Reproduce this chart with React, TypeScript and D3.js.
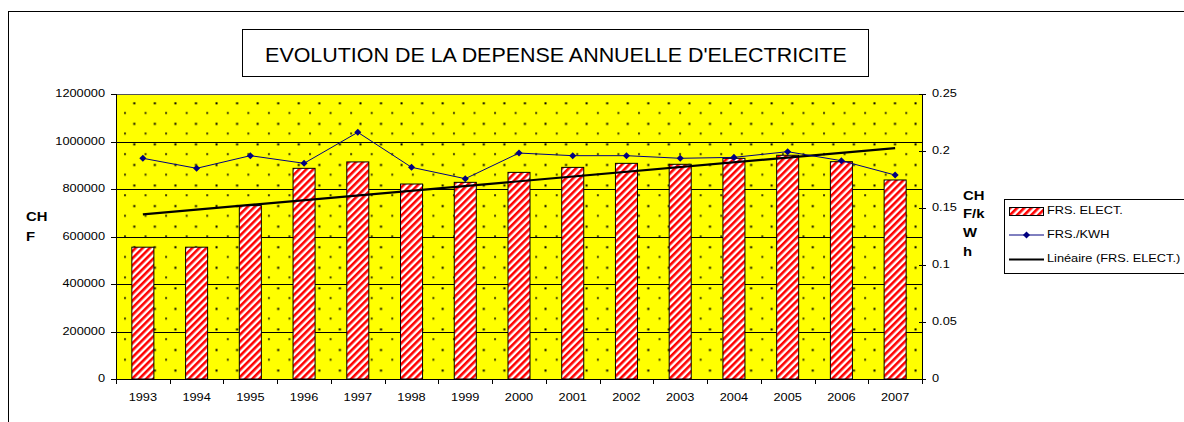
import React from 'react';
import * as d3 from 'd3';

const years = ['1993', '1994', '1995', '1996', '1997', '1998', '1999', '2000', '2001', '2002', '2003', '2004', '2005', '2006', '2007'];
const frsElect = [555000, 555000, 730000, 887000, 914000, 821000, 828000, 870000, 891000, 908000, 904000, 929000, 942000, 915000, 838000];
const frsKwh = [0.1936, 0.1848, 0.1959, 0.1892, 0.2164, 0.1857, 0.1757, 0.1982, 0.1959, 0.1959, 0.1936, 0.1944, 0.1994, 0.1915, 0.1789];
const leftTicks = [0, 200000, 400000, 600000, 800000, 1000000, 1200000];
const rightTicks = [0, 0.05, 0.1, 0.15, 0.2, 0.25];
const titleText = "EVOLUTION DE LA DEPENSE ANNUELLE D'ELECTRICITE";
const legendLabels = ['FRS. ELECT.', 'FRS./KWH', 'Linéaire (FRS. ELECT.)'];
const leftTitle = ['CH', 'F'];
const rightTitle = ['CH', 'F/k', 'W', 'h'];

const FONT = '"Liberation Sans", Arial, sans-serif';
const SX = 1.1;

function T(props: { x: number; y: number; size: number; anchor?: string; bold?: boolean; children: React.ReactNode }) {
  const { x, y, size, anchor = 'start', bold = false, children } = props;
  return (
    <text
      transform={`translate(${x},${y}) scale(${SX},1)`}
      textAnchor={anchor}
      dominantBaseline="middle"
      fontSize={size}
      fontWeight={bold ? 'bold' : 'normal'}
      fill="#000"
    >
      {children}
    </text>
  );
}

export default function App() {
  const L = 116, R = 922, Tp = 94, B = 379;
  const x = d3.scaleBand<string>().domain(years).range([L, R]).padding(0);
  const yL = d3.scaleLinear().domain([0, 1200000]).range([B, Tp]);
  const yR = d3.scaleLinear().domain([0, 0.25]).range([B, Tp]);
  const bw = x.bandwidth() * 0.41;
  const cx = (yr: string) => (x(yr) as number) + x.bandwidth() / 2;

  // linear trendline (least squares) of FRS. ELECT.
  const n = frsElect.length;
  const idx = d3.range(n);
  const mx = d3.mean(idx) as number;
  const my = d3.mean(frsElect) as number;
  const slope = d3.sum(idx, (i) => (i - mx) * (frsElect[i] - my)) / d3.sum(idx, (i) => (i - mx) * (i - mx));
  const icpt = my - slope * mx;
  const trend = [0, n - 1].map((i) => [cx(years[i]), yL(icpt + slope * i)] as [number, number]);

  const line = d3.line<number>().x((_, i) => cx(years[i])).y((d) => yR(d));
  const diamond = d3.symbol().type(d3.symbolDiamond2).size(32)() as string;

  return (
    <svg width={1184} height={422} style={{ position: 'absolute', left: 0, top: 0, background: '#fff' }} fontFamily={FONT}>
      <defs>
        <pattern id="dots" patternUnits="userSpaceOnUse" x={123} y={101} width={20.56} height={20.56}>
          <rect x={10.3} y={1.3} width={2} height={2} fill="#000" />
          <rect x={1} y={11} width={2} height={2} fill="#000" opacity={0.75} />
        </pattern>
        <pattern id="stripes" patternUnits="userSpaceOnUse" width={5} height={5} patternTransform="rotate(45)">
          <rect x={0} y={0} width={5} height={5} fill="#fff" />
          <rect x={0} y={0} width={2.6} height={5} fill="#ff0000" />
        </pattern>
      </defs>

      {/* outer frame */}
      <rect x={8.5} y={11.5} width={1300} height={500} fill="none" stroke="#000" strokeWidth={1} />

      {/* title */}
      <rect x={242.5} y={29.5} width={626} height={47} fill="#fff" stroke="#000" strokeWidth={1} />
      <T x={556} y={57} size={19.5} anchor="middle">{titleText}</T>

      {/* plot background */}
      <rect x={L} y={Tp} width={R - L} height={B - Tp} fill="#ffff00" />
      <rect x={L} y={Tp} width={R - L} height={B - Tp} fill="url(#dots)" />

      {/* gridlines */}
      {leftTicks.map((t) => (
        <line key={'g' + t} x1={L} x2={R} y1={Math.round(yL(t)) + 0.5} y2={Math.round(yL(t)) + 0.5} stroke={t === 1200000 ? '#555' : '#000'} strokeWidth={1} />
      ))}

      {/* bars */}
      {frsElect.map((v, i) => (
        <rect key={'b' + i} x={cx(years[i]) - bw / 2} y={yL(v)} width={bw} height={B - yL(v)} fill="url(#stripes)" stroke="#000" strokeWidth={1} />
      ))}

      {/* trendline */}
      <line x1={trend[0][0]} y1={trend[0][1]} x2={trend[1][0]} y2={trend[1][1]} stroke="#000" strokeWidth={2.2} />

      {/* FRS./KWH line */}
      <path d={line(frsKwh) as string} fill="none" stroke="#000080" strokeWidth={1} />
      {frsKwh.map((v, i) => (
        <path key={'m' + i} d={diamond} transform={`translate(${cx(years[i])},${yR(v)})`} fill="#000080" />
      ))}

      {/* axes */}
      <line x1={L + 0.5} x2={L + 0.5} y1={Tp} y2={B} stroke="#000" />
      <line x1={R + 0.5} x2={R + 0.5} y1={Tp} y2={B} stroke="#000" />
      <line x1={L} x2={R + 1} y1={B + 0.5} y2={B + 0.5} stroke="#000" />
      {leftTicks.map((t) => (
        <g key={'lt' + t}>
          <line x1={L - 5} x2={L} y1={Math.round(yL(t)) + 0.5} y2={Math.round(yL(t)) + 0.5} stroke="#000" />
          <T x={105} y={yL(t)} size={11.6} anchor="end">{t}</T>
        </g>
      ))}
      {rightTicks.map((t) => (
        <g key={'rt' + t}>
          <line x1={R - 3} x2={R + 4} y1={Math.round(yR(t)) + 0.5} y2={Math.round(yR(t)) + 0.5} stroke="#000" />
          <T x={932} y={yR(t)} size={11.6}>{String(t)}</T>
        </g>
      ))}
      {years.map((yr, i) => (
        <g key={'xt' + yr}>
          <line x1={Math.round(x(yr) as number) + 0.5} x2={Math.round(x(yr) as number) + 0.5} y1={B} y2={B + 5} stroke="#000" />
          {i === years.length - 1 && <line x1={R + 0.5} x2={R + 0.5} y1={B} y2={B + 5} stroke="#000" />}
          <T x={cx(yr)} y={398} size={11.6} anchor="middle">{yr}</T>
        </g>
      ))}

      {/* axis titles */}
      {leftTitle.map((s, i) => (
        <T key={'lti' + i} x={26} y={217 + i * 20} size={13.5} bold>{s}</T>
      ))}
      {rightTitle.map((s, i) => (
        <T key={'rti' + i} x={963} y={196 + i * 18.7} size={13.5} bold>{s}</T>
      ))}

      {/* legend */}
      <rect x={1004.5} y={199.5} width={300} height={74} fill="#fff" stroke="#000" strokeWidth={1} />
      <rect x={1009.5} y={207.5} width={34} height={8} fill="url(#stripes)" stroke="#000" strokeWidth={1} />
      <T x={1047} y={211} size={11.6}>{legendLabels[0]}</T>
      <line x1={1009} x2={1044} y1={235} y2={235} stroke="#000080" strokeWidth={1} />
      <path d={diamond} transform="translate(1026.5,235)" fill="#000080" />
      <T x={1047} y={235} size={11.6}>{legendLabels[1]}</T>
      <line x1={1009} x2={1044} y1={259.5} y2={259.5} stroke="#000" strokeWidth={2} />
      <T x={1047} y={259} size={11.6}>{legendLabels[2]}</T>
    </svg>
  );
}
